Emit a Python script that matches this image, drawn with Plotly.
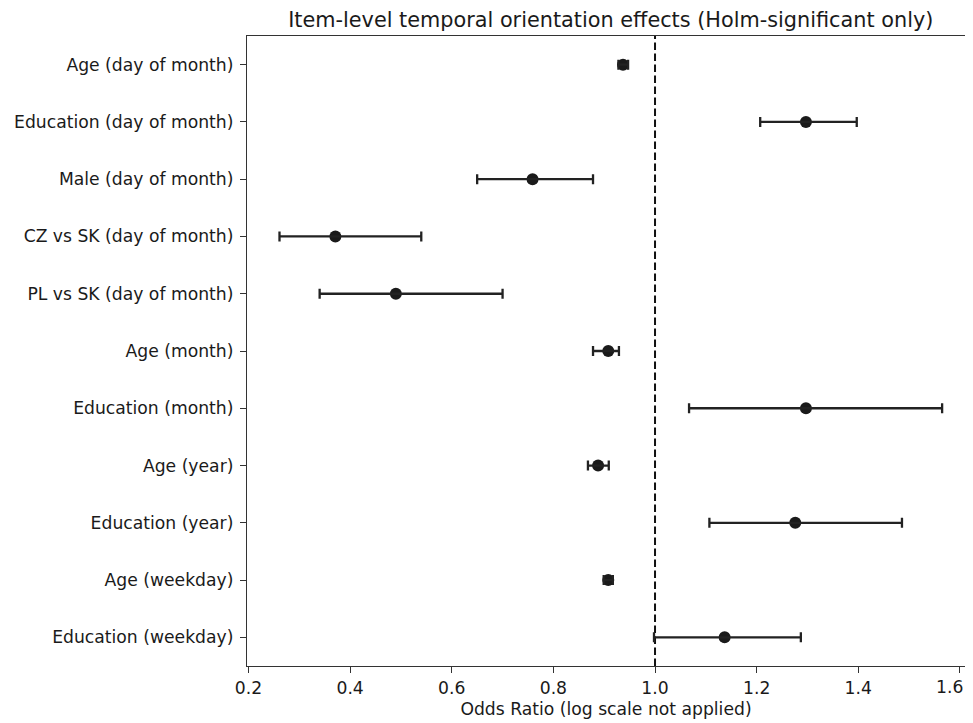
import plotly.graph_objects as go

labels = [
    "Age (day of month)",
    "Education (day of month)",
    "Male (day of month)",
    "CZ vs SK (day of month)",
    "PL vs SK (day of month)",
    "Age (month)",
    "Education (month)",
    "Age (year)",
    "Education (year)",
    "Age (weekday)",
    "Education (weekday)",
]
odds_ratio = [0.937, 1.297, 0.759, 0.371, 0.490, 0.908, 1.297, 0.888, 1.276, 0.908, 1.137]
ci_low = [0.928, 1.207, 0.650, 0.261, 0.340, 0.878, 1.067, 0.868, 1.107, 0.899, 0.998]
ci_high = [0.947, 1.397, 0.878, 0.540, 0.700, 0.929, 1.565, 0.909, 1.486, 0.917, 1.287]
x_ticks = [0.2, 0.4, 0.6, 0.8, 1.0, 1.2, 1.4, 1.6]

err_plus = [h - o for h, o in zip(ci_high, odds_ratio)]
err_minus = [o - l for o, l in zip(odds_ratio, ci_low)]

FONT = "DejaVu Sans"
TXT = "#1a1a1a"
AX = "#333333"
FS = 17.2

# the page body has an 8px margin and only ~965px of width is visible
OFF = 8
VIS_W = 965
W, H = VIS_W - OFF, 723 - OFF
PX_PER_UNIT = 508.5          # horizontal pixels per odds-ratio unit
X0_PAGE = 248                # page x of 0.2
LEFT_PAGE, TOP_PAGE, BOTTOM_PAGE = 246.5, 36, 666
plot_h = BOTTOM_PAGE - TOP_PAGE

fig = go.Figure()
fig.add_trace(go.Scatter(
    x=odds_ratio, y=labels, mode="markers",
    marker=dict(size=12, color="#1a1a1a", line=dict(width=0)),
    showlegend=False, hoverinfo="skip",
))
fig.add_trace(go.Scatter(
    x=odds_ratio, y=labels, mode="markers",
    marker=dict(size=12, color="rgba(0,0,0,0)", line=dict(width=0)),
    error_x=dict(type="data", symmetric=False, array=err_plus, arrayminus=err_minus,
                 thickness=2.3, width=5, color="#222222"),
    showlegend=False,
))

fig.add_shape(type="line", xref="x", yref="paper", x0=1.0, x1=1.0, y0=0, y1=1,
              line=dict(color="#111111", width=2, dash="7.5px,3.5px"), layer="below")

x_min = 0.2 - (X0_PAGE - LEFT_PAGE) / PX_PER_UNIT
x_max = 0.2 + (VIS_W - X0_PAGE) / PX_PER_UNIT

# last tick label would spill past the visible edge: show it right-aligned at the edge
last_tick = x_ticks[-1]
fig.add_annotation(
    text=f"{last_tick:.1f}", xref="paper", x=1.0, xanchor="right",
    yref="paper", y=-(687 - BOTTOM_PAGE) / plot_h, yanchor="middle",
    showarrow=False, font=dict(family=FONT, size=FS, color=TXT),
)

fig.update_layout(
    width=W, height=H,
    margin=dict(l=LEFT_PAGE - OFF, r=0, t=TOP_PAGE - OFF, b=H - (BOTTOM_PAGE - OFF),
                autoexpand=False),
    plot_bgcolor="white", paper_bgcolor="white",
    font=dict(family=FONT, size=FS, color=TXT),
    title=dict(text="Item-level temporal orientation effects (Holm-significant only)",
               x=((246.5 + 975) / 2 - OFF) / W, xanchor="center",
               y=1 - (20 - OFF) / H, yanchor="middle",
               font=dict(family=FONT, size=20.8, color=TXT)),
)
fig.update_xaxes(
    range=[x_min, x_max],
    tickvals=x_ticks, ticktext=[f"{v:.1f}" for v in x_ticks],
    showgrid=False, zeroline=False, automargin=False,
    showline=True, linecolor=AX, linewidth=1.3, mirror=True,
    ticks="outside", ticklen=6, tickwidth=1.3, tickcolor=AX,
    ticklabeloverflow="hide past div",
    tickfont=dict(family=FONT, size=FS, color=TXT),
    title=dict(text="Odds Ratio (log scale not applied)", standoff=6,
               font=dict(family=FONT, size=FS, color=TXT)),
)
fig.update_yaxes(
    type="category", categoryorder="array", categoryarray=labels,
    range=[10.5, -0.5],
    showgrid=False, zeroline=False, automargin=False,
    showline=True, linecolor=AX, linewidth=1.3,
    ticks="outside", ticklen=6, tickwidth=1.3, tickcolor=AX,
    ticklabelstandoff=3,
    tickfont=dict(family=FONT, size=FS, color=TXT),
)

fig.write_html("out.html")
